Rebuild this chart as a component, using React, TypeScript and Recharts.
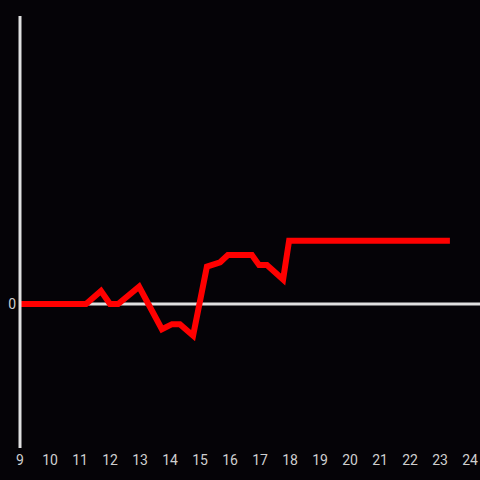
import React from "react";
import { LineChart, Line, XAxis, YAxis, ReferenceLine } from "recharts";

const hours = [9, 11.2, 11.7, 12.0, 12.27, 12.97, 13.73, 14.07, 14.33, 14.77, 15.23, 15.67, 15.93, 16.73, 16.97, 17.23, 17.77, 17.97, 23.33];
const values = [0, 0, 9, 0, 0, 12, -17.5, -14, -14, -22, 26, 29, 34, 34, 27, 27, 17, 44, 44];
const xTicks = [9, 10, 11, 12, 13, 14, 15, 16, 17, 18, 19, 20, 21, 22, 23, 24];
const yTicks = [0];

const data = hours.map((h, i) => ({ h, v: values[i] }));

export default function App() {
  return (
    <div style={{ position: "absolute", left: 0, top: 0, width: 480, height: 480, background: "#050307" }}>
      <LineChart width={480} height={480} data={data} margin={{ top: 16, right: 0, bottom: 0, left: 0 }}>
        <XAxis
          dataKey="h"
          type="number"
          domain={[9, 24.3333]}
          ticks={xTicks}
          allowDataOverflow
          axisLine={false}
          tickLine={false}
          height={32}
          tickSize={0}
          tickMargin={7}
          tick={{ fill: "#cfcfcf", fontSize: 14, fontFamily: "Roboto" }}
          interval={0}
        />
        <YAxis
          type="number"
          domain={[-100, 200]}
          ticks={yTicks}
          width={20}
          axisLine={{ stroke: "#e0e0e0", strokeWidth: 3 }}
          tickLine={false}
          tickSize={0}
          tickMargin={4}
          tick={{ fill: "#cfcfcf", fontSize: 14, fontFamily: "Roboto" }}
        />
        <ReferenceLine y={0} stroke="#e0e0e0" strokeWidth={3} />
        <Line
          type="linear"
          dataKey="v"
          stroke="#ff0000"
          strokeWidth={6}
          dot={false}
          isAnimationActive={false}
          strokeLinejoin="miter"
        />
      </LineChart>
    </div>
  );
}
